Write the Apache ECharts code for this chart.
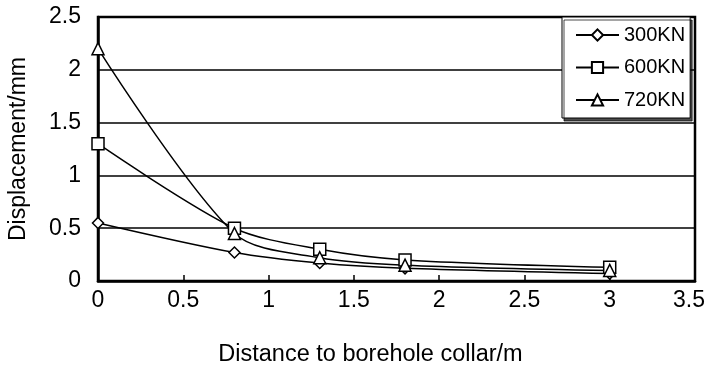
<!DOCTYPE html>
<html>
<head>
<meta charset="utf-8">
<script src="https://cdn.jsdelivr.net/npm/echarts@6/dist/echarts.min.js"></script>
<style>
    html, body { margin: 0; padding: 0; background: #fff; }
    #chart { width: 708px; height: 367px; }
</style>
</head>
<body>
<div id="chart"></div>
<script type="text/javascript">
    // distance to borehole collar (m)
    var distance = [0, 0.8, 1.3, 1.8, 3];
    // displacement (mm) for each load
    var load300 = [0.55, 0.27, 0.17, 0.12, 0.07];
    var load600 = [1.3, 0.5, 0.3, 0.2, 0.13];
    var load720 = [2.2, 0.45, 0.22, 0.15, 0.1];
    var seriesNames = ['300KN', '600KN', '720KN'];

    function pairs(xs, ys) {
        var out = [];
        for (var i = 0; i < xs.length; i++) {
            out.push([xs[i], ys[i]]);
        }
        return out;
    }

    function makeSeries(name, values, symbol, size) {
        return {
            name: name,
            type: 'line',
            data: pairs(distance, values),
            smooth: 0.3,
            symbol: symbol,
            symbolSize: size,
            showAllSymbol: true,
            lineStyle: { color: '#000', width: 1.5 },
            itemStyle: { color: '#fff', borderColor: '#000', borderWidth: 1.5 },
            emphasis: { disabled: true }
        };
    }

    var font = 'Liberation Sans, Arial, sans-serif';
    var myChart = echarts.init(document.getElementById('chart'));
    var option = {
        animation: false,
        backgroundColor: '#fff',
        textStyle: { fontFamily: font },
        grid: {
            left: 98, right: 13, top: 17, bottom: 86,
            outerBoundsMode: 'none',
            containLabel: false,
            show: true, borderColor: '#000', borderWidth: 2.5
        },
        legend: {
            data: seriesNames,
            orient: 'vertical',
            left: 562,
            top: 17,
            itemWidth: 43,
            itemHeight: 14,
            itemGap: 12.5,
            padding: [8, 5, 8, 13],
            backgroundColor: '#fff',
            borderColor: '#000',
            borderWidth: 1,
            shadowColor: 'rgba(0,0,0,0.7)',
            shadowOffsetX: 2,
            shadowOffsetY: 3,
            textStyle: { fontFamily: font, fontSize: 20, lineHeight: 14, color: '#000' }
        },
        xAxis: {
            type: 'value',
            min: 0, max: 3.5, interval: 0.5,
            name: 'Distance to borehole collar/m',
            nameLocation: 'middle',
            nameGap: 62,
            nameTextStyle: { fontFamily: font, fontSize: 23.5, color: '#000', padding: [0, 52, 0, 0] },
            axisLine: { lineStyle: { color: '#000', width: 2.5 } },
            axisTick: { inside: true, length: 6, lineStyle: { color: '#000', width: 1.5 } },
            axisLabel: {
                fontFamily: font, fontSize: 23, color: '#000', margin: 8,
                formatter: function (v) {
                    return v === 3.5 ? '{last|' + v + '}' : String(v);
                },
                rich: {
                    last: { fontFamily: font, fontSize: 23, color: '#000', padding: [0, 12, 0, 0] }
                }
            },
            splitLine: { show: false }
        },
        yAxis: {
            type: 'value',
            min: 0, max: 2.5, interval: 0.5,
            name: 'Displacement/mm',
            nameLocation: 'middle',
            nameGap: 68,
            nameTextStyle: { fontFamily: font, fontSize: 23, color: '#000' },
            axisLine: { show: true, lineStyle: { color: '#000', width: 2.5 } },
            axisTick: { show: false },
            axisLabel: { fontFamily: font, fontSize: 23, color: '#000', margin: 17 },
            splitLine: { lineStyle: { color: '#000', width: 1.5 } }
        },
        series: [
            makeSeries(seriesNames[0], load300, 'diamond', 11),
            makeSeries(seriesNames[1], load600, 'rect', 12),
            makeSeries(seriesNames[2], load720, 'triangle', 12)
        ]
    };
    myChart.setOption(option, true);
</script>
</body>
</html>
